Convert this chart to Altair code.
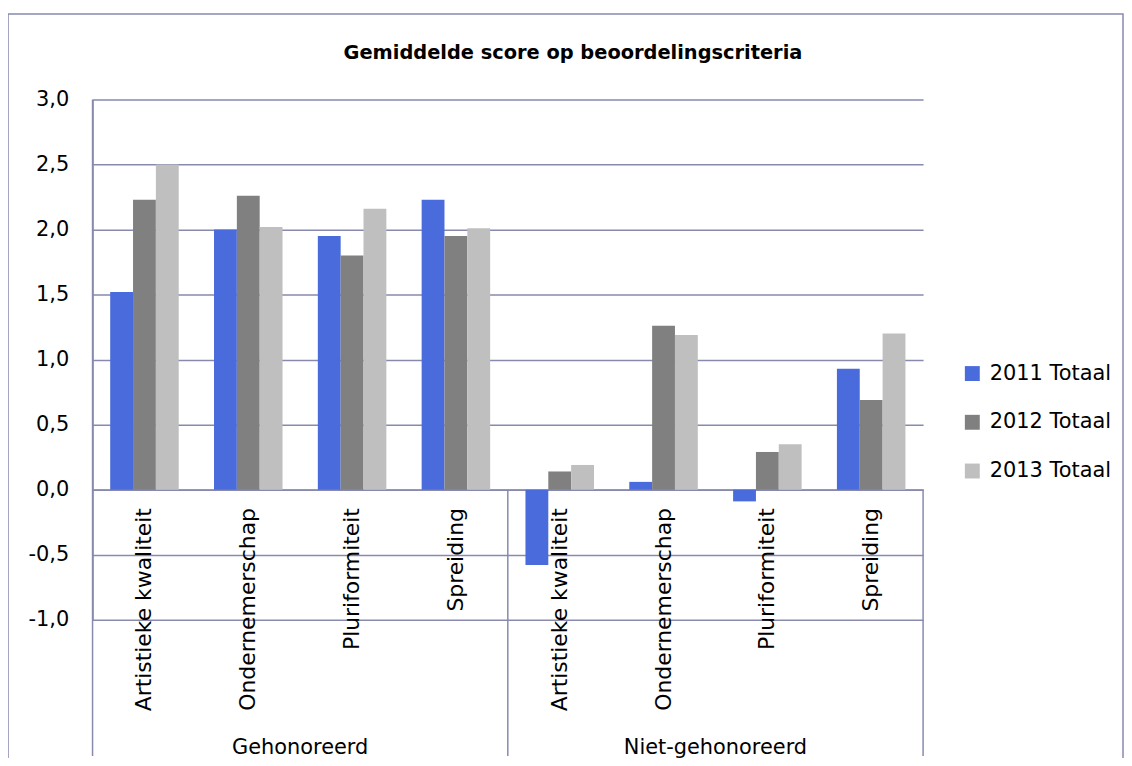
import altair as alt
import pandas as pd

title_text = "Gemiddelde score op beoordelingscriteria"
groups = ["Gehonoreerd", "Niet-gehonoreerd"]
criteria = ["Artistieke kwaliteit", "Ondernemerschap", "Pluriformiteit", "Spreiding"]
series = ["2011 Totaal", "2012 Totaal", "2013 Totaal"]
colors = ["#4A6BDC", "#808080", "#BFBFBF"]

# values per series, order: Gehonoreerd x 4 criteria, then Niet-gehonoreerd x 4 criteria
v2011 = [1.52, 2.00, 1.95, 2.23, -0.58, 0.06, -0.09, 0.93]
v2012 = [2.23, 2.26, 1.80, 1.95, 0.14, 1.26, 0.29, 0.69]
v2013 = [2.50, 2.02, 2.16, 2.01, 0.19, 1.19, 0.35, 1.20]
y_ticks = [-1.0, -0.5, 0.0, 0.5, 1.0, 1.5, 2.0, 2.5, 3.0]

FONT = "DejaVu Sans"
GRID = "#878AAE"
W, H = 835, 523
PAD_L, PAD_T, PAD_R, PAD_B = 85, 90, 202, 137

cats = [g + "|" + c for g in groups for c in criteria]
rows = []
for s, vals in zip(series, [v2011, v2012, v2013]):
    for cat, v in zip(cats, vals):
        rows.append({"cat": cat, "series": s, "value": v})
df = pd.DataFrame(rows)
one = pd.DataFrame({"k": [0]})

bars = alt.Chart(df).mark_bar().encode(
    x=alt.X(
        "cat:N",
        sort=cats,
        scale=alt.Scale(domain=cats, paddingInner=0.34, paddingOuter=0.17),
        axis=alt.Axis(
            title=None,
            labelExpr="split(datum.label, '|')[1]",
            labelAngle=270,
            labelAlign="right",
            labelBaseline="middle",
            labelPadding=18,
            labelLimit=400,
            labelOverlap=False,
            labelFont=FONT,
            labelFontSize=22,
            labelColor="#000000",
            ticks=False,
            tickSize=0,
            domainColor=GRID,
            domainWidth=1.5,
            grid=False,
            offset=-130.75,
        ),
    ),
    xOffset=alt.XOffset("series:N", sort=series, scale=alt.Scale(domain=series, paddingInner=0, paddingOuter=0)),
    y=alt.Y(
        "value:Q",
        scale=alt.Scale(domain=[-1, 3], nice=False, zero=False),
        axis=alt.Axis(
            title=None,
            values=y_ticks,
            labelExpr="replace(replace(format(datum.value, '.1f'), '.', ','), '\u2212', '-')",
            labelFont=FONT,
            labelFontSize=21,
            labelColor="#000000",
            labelPadding=24,
            ticks=False,
            tickSize=0,
            domainColor=GRID,
            domainWidth=1.5,
            grid=True,
            gridColor=GRID,
            gridWidth=1.5,
        ),
    ),
    color=alt.Color(
        "series:N",
        sort=series,
        scale=alt.Scale(domain=series, range=colors),
        legend=alt.Legend(
            title=None,
            orient="none",
            legendX=874,
            legendY=265,
            symbolType="square",
            symbolSize=225,
            symbolStrokeWidth=0,
            symbolOpacity=1,
            labelFont=FONT,
            labelFontSize=21,
            labelColor="#000000",
            rowPadding=27,
            labelOffset=7,
            padding=0,
        ),
    ),
)

frame = alt.Chart(one).mark_rect(fillOpacity=0, stroke=GRID, strokeWidth=1.5).encode(
    x=alt.value(-85), x2=alt.value(1036), y=alt.value(-86), y2=alt.value(H + PAD_B + 20)
)

rule_left = alt.Chart(one).mark_rule(color=GRID, strokeWidth=1.5).encode(
    x=alt.value(0), y=alt.value(0), y2=alt.value(H + PAD_B)
)
rule_mid = alt.Chart(one).mark_rule(color=GRID, strokeWidth=1.5).encode(
    x=alt.value(W / 2), y=alt.datum(0), y2=alt.value(H + PAD_B)
)
rule_right = alt.Chart(one).mark_rule(color=GRID, strokeWidth=1.5).encode(
    x=alt.value(W), y=alt.datum(0), y2=alt.value(H + PAD_B)
)

grp = alt.Chart(pd.DataFrame({"group": groups})).mark_text(
    font=FONT, fontSize=21, baseline="middle", align="center", color="#000000"
).encode(
    x=alt.X("group:N", sort=groups, scale=alt.Scale(domain=groups, paddingInner=0, paddingOuter=0), axis=None),
    y=alt.value(652),
    text="group:N",
)

title = alt.Chart(one).mark_text(
    text=title_text, font=FONT, fontSize=19.5, fontWeight="bold", align="center",
    baseline="alphabetic", color="#000000"
).encode(x=alt.value(483), y=alt.value(-40.5))

chart = alt.layer(frame, bars, rule_left, rule_mid, rule_right, grp, title).resolve_scale(
    x="independent"
).properties(
    width=W,
    height=H,
    padding={"left": PAD_L, "top": PAD_T, "right": PAD_R, "bottom": PAD_B},
    autosize=alt.AutoSizeParams(type="none"),
).configure_view(strokeWidth=0)

chart.save("out.html", embed_options={"renderer": "svg", "actions": False})
